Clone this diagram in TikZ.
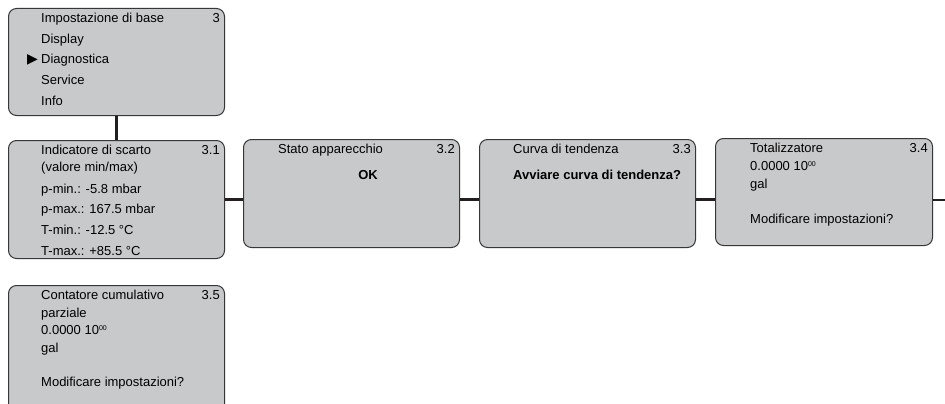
\documentclass[tikz,border=0pt]{standalone}
\usepackage{fontspec}
\setmainfont{Liberation Sans}
\newfontfamily\symfont{DejaVu Sans}
\usetikzlibrary{positioning,calc}
\definecolor{boxgray}{RGB}{200,201,203}
\definecolor{rimgray}{RGB}{55,55,55}
\definecolor{linkblack}{RGB}{35,31,32}
\newcommand{\expzero}{10\raisebox{4pt}{\fontsize{7}{7}\selectfont 00}}

\begin{document}
\begin{tikzpicture}[x=1pt, y=-1pt, font=\fontsize{13}{15}\selectfont,
    menubox/.style={draw=rimgray, fill=boxgray, rounded corners=8pt, line width=1pt,
        minimum width=216pt, inner sep=0pt, anchor=north west},
    item/.style={anchor=west, inner sep=0pt, text height=9.5pt, text depth=2.5pt},
    num/.style={anchor=east, inner sep=0pt, text height=9.5pt, text depth=2.5pt},
    link/.style={draw=linkblack, line width=2.6pt}]
% Page frame (the lowest box runs off the bottom edge)
\clip (0,0) rectangle (945,404);
\fill[white] (0,0) rectangle (945,404);

% Menu boxes
\node[menubox, minimum height=107pt] (b3) at (8,8) {};
\node[menubox, minimum height=118pt] (b31) at (8,140) {};
\node[menubox, minimum height=108pt] (b32) at (243,139) {};
\node[menubox, minimum height=108pt] (b33) at (479,139) {};
\node[menubox, minimum height=107pt, minimum width=217pt] (b34) at (715,138) {};
\node[menubox, minimum height=135pt] (b35) at (8,285) {};

% Connectors
\draw[link] (b3) -- (b31);
\draw[link] (b31.east) -- (b31.east -| b32.west);
\draw[link] (b31.east -| b32.east) -- (b31.east -| b33.west);
\draw[link] (b31.east -| b33.east) -- (b31.east -| b34.west);
\coordinate (exit) at (945,200);
\draw[link] (exit -| b34.east) -- (exit);

% Main menu 3
\foreach \txt [count=\k] in {Impostazione di base, Display, Diagnostica, Service, Info}
    \node[item] (m\k) at (41,{19+20.7*(\k-1)}) {\txt};
\node[num, left=3pt of m3, font=\symfont\fontsize{14}{14}\selectfont] (pointer) {▶};
\node[num] (n3) at (220,19) {3};

% 3.1
\node[item] (t31a) at (41,151) {Indicatore di scarto};
\node[item] (t31b) at (41,168) {(valore min/max)};
\foreach \txt [count=\k] in {p-min.: -5.8 mbar, p-max.: 167.5 mbar, T-min.: -12.5 °C, T-max.: +85.5 °C}
    \node[item] (v31\k) at (41,{189.5+20.8*(\k-1)}) {\txt};
\node[num] (n31) at (220,151) {3.1};

% 3.2
\node[item] (t32) at (278,150) {Stato apparecchio};
\node[inner sep=0pt, font=\fontsize{13}{15}\selectfont\bfseries] (ok) at (368,175) {OK};
\node[num] (n32) at (455,150) {3.2};

% 3.3
\node[item] (t33) at (513,150) {Curva di tendenza};
\node[item, font=\fontsize{13}{15}\selectfont\bfseries] (go33) at (513,176) {Avviare curva di tendenza?};
\node[num] (n33) at (691,150) {3.3};

% 3.4
\node[item] (t34) at (750,149) {Totalizzatore};
\node[item] (v34) at (750,167) {0.0000 \expzero};
\node[item] (u34) at (750,185) {gal};
\node[item] (q34) at (750,220) {Modificare impostazioni?};
\node[num] (n34) at (928,149) {3.4};

% 3.5
\node[item] (t35a) at (41,296) {Contatore cumulativo};
\node[item] (t35b) at (41,314) {parziale};
\node[item] (v35) at (41,331) {0.0000 \expzero};
\node[item] (u35) at (41,349) {gal};
\node[item] (q35) at (41,383) {Modificare impostazioni?};
\node[num] (n35) at (220,296) {3.5};
\end{tikzpicture}
\end{document}
